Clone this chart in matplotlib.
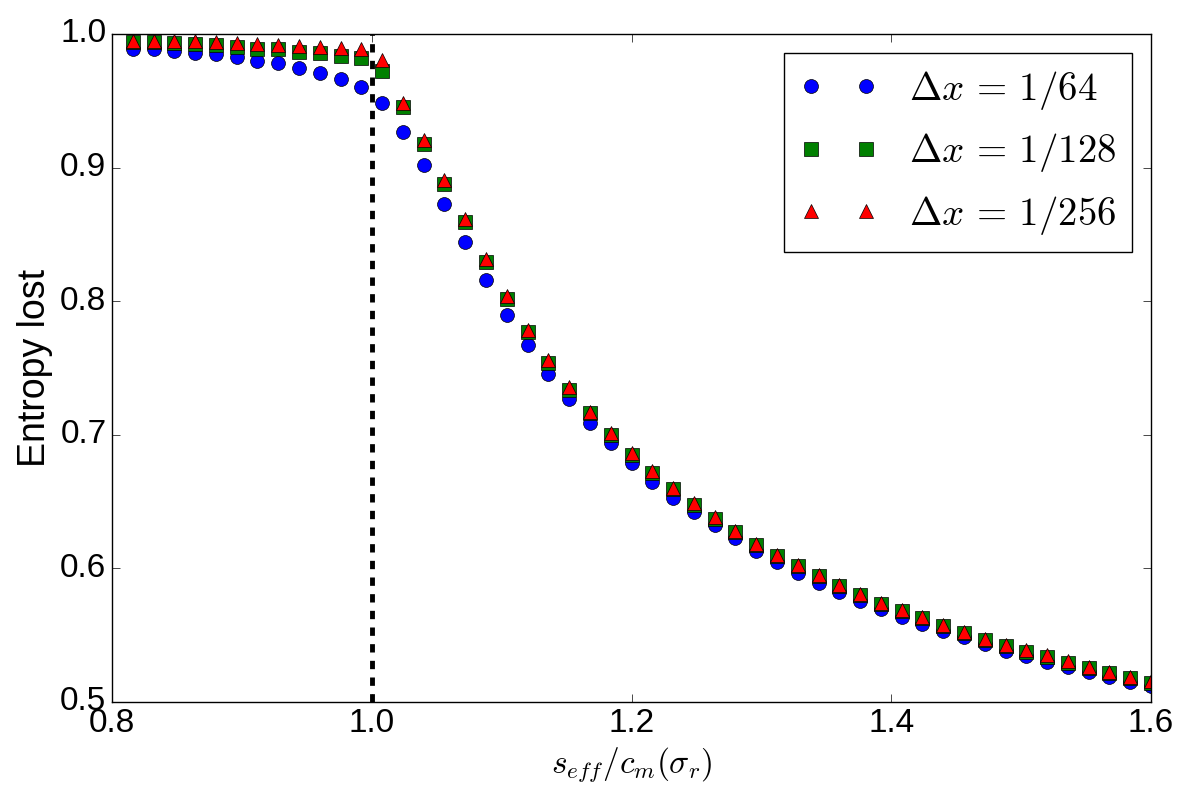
import matplotlib
matplotlib.use('Agg')
from matplotlib import pyplot as plt

# s_eff / c_m(sigma_r)
ratio = [0.816, 0.832, 0.848, 0.864, 0.880, 0.896, 0.912, 0.928, 0.944, 0.960,
         0.976, 0.992, 1.008, 1.024, 1.040, 1.056, 1.072, 1.088, 1.104, 1.120,
         1.136, 1.152, 1.168, 1.184, 1.200, 1.216, 1.232, 1.248, 1.264, 1.280,
         1.296, 1.312, 1.328, 1.344, 1.360, 1.376, 1.392, 1.408, 1.424, 1.440,
         1.456, 1.472, 1.488, 1.504, 1.520, 1.536, 1.552, 1.568, 1.584, 1.600]

# entropy lost, dx = 1/64
loss_64 = [0.9890, 0.9885, 0.9875, 0.9860, 0.9850, 0.9828, 0.9800, 0.9780, 0.9745, 0.9708,
           0.9660, 0.9600, 0.9480, 0.9270, 0.9020, 0.8730, 0.8440, 0.8160, 0.7900, 0.7670,
           0.7455, 0.7270, 0.7090, 0.6936, 0.6786, 0.6649, 0.6529, 0.6425, 0.6322, 0.6225,
           0.6133, 0.6048, 0.5968, 0.5893, 0.5826, 0.5758, 0.5698, 0.5638, 0.5586, 0.5534,
           0.5484, 0.5434, 0.5384, 0.5344, 0.5302, 0.5264, 0.5227, 0.5189, 0.5152, 0.5122]

# entropy lost, dx = 1/128
loss_128 = [0.9940, 0.9940, 0.9930, 0.9923, 0.9915, 0.9905, 0.9890, 0.9885, 0.9868, 0.9855,
            0.9838, 0.9823, 0.9726, 0.9452, 0.9174, 0.8880, 0.8590, 0.8292, 0.8013, 0.7766,
            0.7537, 0.7339, 0.7160, 0.7001, 0.6849, 0.6717, 0.6592, 0.6477, 0.6370, 0.6270,
            0.6175, 0.6093, 0.6018, 0.5943, 0.5868, 0.5801, 0.5734, 0.5681, 0.5626, 0.5569,
            0.5514, 0.5464, 0.5419, 0.5377, 0.5340, 0.5294, 0.5252, 0.5215, 0.5177, 0.5145]

# entropy lost, dx = 1/256
loss_256 = [0.9951, 0.9950, 0.9944, 0.9944, 0.9940, 0.9930, 0.9924, 0.9918, 0.9908, 0.9903,
            0.9895, 0.9889, 0.9802, 0.9485, 0.9207, 0.8910, 0.8612, 0.8317, 0.8041, 0.7788,
            0.7557, 0.7357, 0.7173, 0.7015, 0.6862, 0.6729, 0.6604, 0.6489, 0.6381, 0.6281,
            0.6186, 0.6104, 0.6028, 0.5953, 0.5878, 0.5811, 0.5744, 0.5691, 0.5636, 0.5579,
            0.5524, 0.5474, 0.5429, 0.5387, 0.5350, 0.5304, 0.5262, 0.5225, 0.5187, 0.5155]

labels = [r'$\Delta x \,=\, 1/64$', r'$\Delta x \,=\, 1/128$', r'$\Delta x \,=\, 1/256$']
threshold = 1.0

plt.style.use('classic')
plt.rcParams['font.family'] = ['Liberation Sans', 'DejaVu Sans']
plt.rcParams['mathtext.fontset'] = 'cm'
plt.rcParams['figure.facecolor'] = 'white'
plt.rcParams['savefig.facecolor'] = 'white'

fig = plt.figure(figsize=(12, 8), dpi=100)
ax = fig.add_axes([0.0933, 0.1225, 0.8659, 0.835])

ax.axvline(threshold, color='k', linestyle='--', linewidth=3.5)

ax.plot(ratio, loss_64, 'bo', markersize=10, markeredgecolor='k', markeredgewidth=0.5, label=labels[0])
ax.plot(ratio, loss_128, 'gs', markersize=10, markeredgecolor='k', markeredgewidth=0.5, label=labels[1])
ax.plot(ratio, loss_256, 'r^', markersize=10, markeredgecolor='k', markeredgewidth=0.5, label=labels[2])

ax.set_xlim(0.8, 1.6)
ax.set_ylim(0.5, 1.0)
ax.set_xticks([0.8, 1.0, 1.2, 1.4, 1.6])
ax.set_yticks([0.5, 0.6, 0.7, 0.8, 0.9, 1.0])
ax.tick_params(labelsize=24, direction='in', length=6)

ax.set_xlabel(r'$s_{eff}/c_m(\sigma_r)$', fontsize=24)
ax.set_ylabel('Entropy lost', fontsize=27)

leg = ax.legend(loc='upper right', numpoints=2, fontsize=28, fancybox=False)
leg.get_frame().set_edgecolor('k')

plt.savefig('out.png', dpi=100)
